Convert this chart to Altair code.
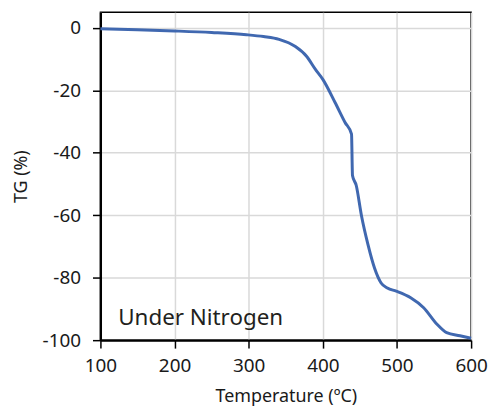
import altair as alt
import pandas as pd

temps = [100, 150, 200, 250, 297, 320, 341, 363, 378, 390, 400, 416.5, 430, 438.7,
         440, 445, 452, 461, 469.7, 478.6, 487, 499, 518.5, 536, 554, 567, 585, 600]
tg = [-0.3, -0.6, -1.0, -1.5, -2.2, -2.8, -3.7, -6.0, -9.1, -13.3, -16.5, -23.9, -30.3, -34.0,
      -47.3, -50.4, -60.0, -69.5, -76.9, -81.7, -83.3, -84.3, -86.4, -89.6, -94.9, -97.6, -98.6, -99.4]

x_ticks = [100, 200, 300, 400, 500, 600]
y_ticks = [-100, -80, -60, -40, -20, 0]
note_text = ["Under Nitrogen"]
note_x = [124]
note_y = [-95.3]

df = pd.DataFrame({"T": temps, "TG": tg})
notes = pd.DataFrame({"label": note_text, "T": note_x, "TG": note_y})

xscale = alt.Scale(domain=[100, 600], nice=False, zero=False)
yscale = alt.Scale(domain=[-100, 5], nice=False, zero=False)

line = alt.Chart(df).mark_line(color="#4068b0", strokeWidth=3, interpolate="monotone").encode(
    x=alt.X("T:Q", scale=xscale,
            axis=alt.Axis(title="Temperature (ºC)", values=x_ticks, labelFlush=False,
                          labelPadding=9, titlePadding=12)),
    y=alt.Y("TG:Q", scale=yscale,
            axis=alt.Axis(title="TG (%)", values=y_ticks, labelFlush=False,
                          labelExpr="'' + datum.value",
                          labelPadding=12, titlePadding=12)),
)

text = alt.Chart(notes).mark_text(align="left", baseline="alphabetic", fontSize=22.5,
                                  font="Noto Sans", color="#231f20").encode(
    x=alt.X("T:Q", scale=xscale),
    y=alt.Y("TG:Q", scale=yscale),
    text="label:N",
)

chart = alt.layer(line, text).properties(
    width=373, height=330, padding={"left": 4, "top": 3, "right": 0, "bottom": 0}
).configure_view(stroke="black", strokeWidth=1.5).configure_axis(
    grid=True, gridColor="#d9d9d9", gridWidth=1.5,
    domainColor="black", domainWidth=2.2,
    tickColor="black", tickWidth=1.5, tickSize=8,
    labelFont="Noto Sans", labelFontSize=19, labelColor="#1a1a1a",
    titleFont="Noto Sans", titleFontSize=18, titleFontWeight="normal", titleColor="#1a1a1a",
)

chart.save("out.html", embed_options={"renderer": "svg", "actions": False})
